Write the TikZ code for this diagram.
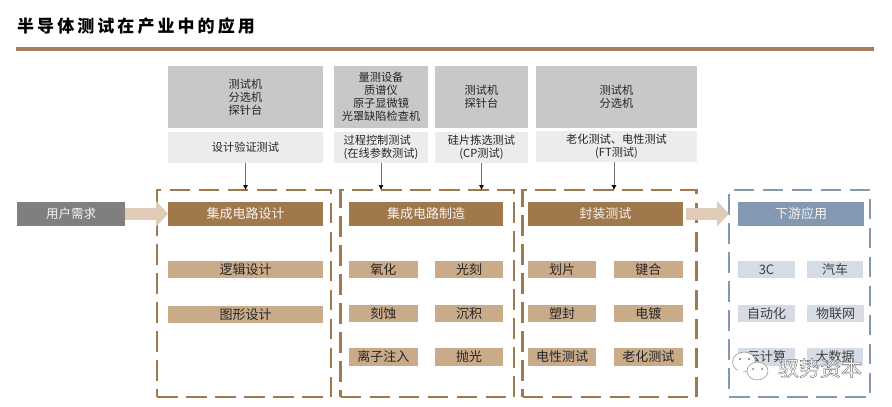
\documentclass[tikz,border=0pt]{standalone}
\usepackage{fontspec}
\setmainfont{Noto Sans CJK SC}
\usetikzlibrary{arrows.meta}
\definecolor{brownhdr}{HTML}{A0784C}
\definecolor{rulec}{HTML}{A67C5E}
\definecolor{itemc}{HTML}{C9AB8A}
\definecolor{bluehdr}{HTML}{8498B1}
\definecolor{blueitem}{HTML}{D6DCE6}
\definecolor{grayhdr}{HTML}{7F7F7F}
\definecolor{toolc}{HTML}{C8C8C8}
\definecolor{testc}{HTML}{ECECEC}
\definecolor{arrowc}{HTML}{DFCBB6}
\definecolor{textc}{HTML}{262626}
\newcommand{\bx}[7]{%
  \pgfmathsetmacro{\bxw}{#5-#3}\pgfmathsetmacro{\bxh}{#6-#4}%
  \pgfmathsetmacro{\bxx}{(#3+#5)/2}\pgfmathsetmacro{\bxy}{(#4+#6)/2}%
  \node[#1,minimum width=\bxw pt,minimum height=\bxh pt] (#2) at (\bxx,\bxy) {#7};}
\tikzset{
  base/.style={inner sep=0pt,outer sep=0pt,align=center,font=\fontsize{11.2}{13}\selectfont,text=textc},
  toolbox/.style={base,fill=toolc},
  testbox/.style={base,fill=testc},
  hdrbox/.style={base,fill=brownhdr,text=white!92!brownhdr,font=\fontsize{13}{15}\selectfont},
  bluehdrbox/.style={hdrbox,fill=bluehdr},
  userbox/.style={hdrbox,fill=grayhdr,font=\fontsize{12.5}{15}\selectfont},
  itembox/.style={base,fill=itemc,font=\fontsize{13}{15}\selectfont},
  blueitembox/.style={itembox,fill=blueitem,text=black!75},
  dashbrown/.style={inner sep=0pt,outer sep=0pt,draw=brownhdr,line width=2.6pt,dash pattern=on 20.5pt off 8.5pt},
  dashblue/.style={dashbrown,draw=bluehdr},
  thin arrow/.style={draw=black!55,line width=0.6pt,-{Latex[black,length=5pt,width=5pt]}},
  block arrow/.style={draw=arrowc,line width=12pt,-{Triangle[length=12pt,width=25pt]}},
  markbubble/.style={draw=black!45,fill=white,line width=0.5pt},
}
\begin{document}
\begin{tikzpicture}[x=1pt,y=-1pt]
\useasboundingbox (0,0) rectangle (892,407);
\fill[white] (0,0) rectangle (892,407);
% title
\node[inner sep=0pt,anchor=west,text=black,font=\fontsize{17}{20}\selectfont\bfseries\addfontfeature{LetterSpace=18}] (title) at (17,26) {半导体测试在产业中的应用};
\fill[rulec] (16,47) rectangle (874,51);
% dashed frames
\bx{dashbrown}{d1}{157}{190}{331}{397}{}
\bx{dashbrown}{d2}{340.5}{190}{514}{397}{}
\bx{dashbrown}{d3}{522.7}{190}{696.7}{397}{}
\bx{dashblue}{d4}{729}{190}{870}{397}{}
% tools
\bx{toolbox}{t1}{168}{66}{323}{128}{测试机\\分选机\\探针台}
\bx{toolbox}{t2}{334}{66}{428}{128}{量测设备\\质谱仪\\原子显微镜\\光罩缺陷检查机}
\bx{toolbox}{t3}{435}{66}{528}{128}{测试机\\探针台}
\bx{toolbox}{t4}{536}{66}{697}{128}{测试机\\分选机}
% tests
\bx{testbox}{c1}{168}{132}{323}{163}{设计验证测试}
\bx{testbox,align=left}{c2}{334}{132}{428}{163}{过程控制测试\\(在线参数测试)}
\bx{testbox}{c3}{435}{132}{528}{163}{硅片拣选测试\\(CP测试)}
\bx{testbox}{c4}{536}{131}{697}{162}{老化测试、电性测试\\(FT测试)}
% headers
\bx{userbox}{user}{17}{202}{125}{225.5}{用户需求}
\bx{hdrbox}{h1}{168}{202}{323}{225.5}{集成电路设计}
\bx{hdrbox}{h2}{349}{202}{503}{225.5}{集成电路制造}
\bx{hdrbox}{h3}{528}{202}{682.7}{225.5}{封装测试}
\bx{bluehdrbox}{h4}{738}{202}{864}{225.5}{下游应用}
% design items
\bx{itembox}{i11}{168}{261}{323}{278}{逻辑设计}
\bx{itembox}{i12}{168}{306}{323}{323}{图形设计}
% fab items
\bx{itembox}{i21}{349}{261}{417.5}{278}{氧化}
\bx{itembox}{i22}{435}{261}{503}{278}{光刻}
\bx{itembox}{i23}{349}{304.5}{417.5}{322}{刻蚀}
\bx{itembox}{i24}{435}{304.5}{503}{322}{沉积}
\bx{itembox}{i25}{349}{348}{417.5}{365.5}{离子注入}
\bx{itembox}{i26}{435}{348}{503}{365.5}{抛光}
% packaging items
\bx{itembox}{i31}{528}{261}{596}{278}{划片}
\bx{itembox}{i32}{614}{261}{682.7}{278}{键合}
\bx{itembox}{i33}{528}{304.5}{596}{322}{塑封}
\bx{itembox}{i34}{614}{304.5}{682.7}{322}{电镀}
\bx{itembox}{i35}{528}{348}{596}{365.5}{电性测试}
\bx{itembox}{i36}{614}{348}{682.7}{365.5}{老化测试}
% downstream items
\bx{blueitembox}{i41}{738}{261}{795}{278}{3C}
\bx{blueitembox}{i42}{807}{261}{863}{278}{汽车}
\bx{blueitembox}{i43}{738}{304.5}{795}{322}{自动化}
\bx{blueitembox}{i44}{807}{304.5}{864}{322}{物联网}
\bx{blueitembox}{i45}{738}{348}{795}{365.5}{云计算}
\bx{blueitembox}{i46}{807}{348}{863}{365.5}{大数据}
% connectors
\draw[thin arrow] (c1.south) -- (c1.south |- d1.north);
\draw[thin arrow] (c2.south) -- (c2.south |- d2.north);
\draw[thin arrow] (c3.south) -- (c3.south |- d3.north);
\draw[thin arrow] ([xshift=-2.5pt]c4.south) -- ([xshift=-2.5pt]c4.south |- d3.north);
\draw[block arrow] (user.east) -- (h1.west);
\draw[block arrow] ([xshift=3.5pt]h3.east) -- (h3.east -| d4.west);
% watermark
\draw[markbubble] (744,362) ellipse (11.5 and 10);
\fill[white] (738,369) -- (736,376) -- (744,371) -- cycle;
\draw[markbubble] (757.5,371) ellipse (10.5 and 9);
\fill[black!55] (740,359) circle (1.2) (749,359) circle (1.2) (753,369) circle (1) (762,369) circle (1);
\node[inner sep=0pt,text=white,font=\fontsize{21}{23}\selectfont] (wm) at (820,368) {\special{pdf:code 0.45 G 0.4 w 2 Tr}驭势资本\special{pdf:code 0 Tr}};
\end{tikzpicture}
\end{document}
